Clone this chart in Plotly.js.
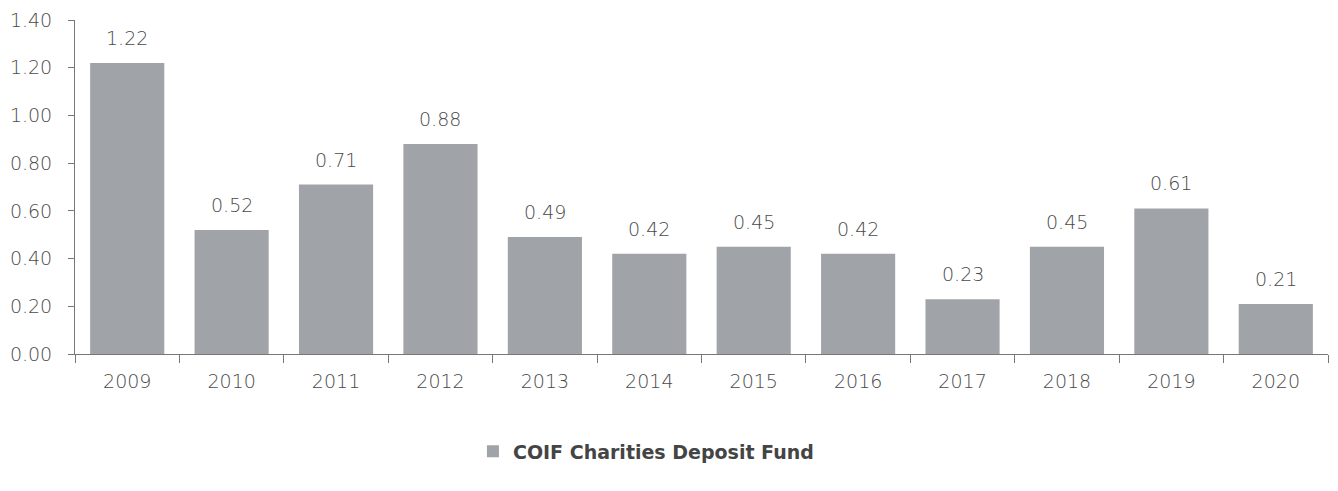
<!DOCTYPE html>
<html>
<head>
<meta charset="utf-8">
<script src="https://cdn.plot.ly/plotly-3.0.1.min.js"></script>
<style>html,body{margin:0;padding:0;background:#fff;}#chart{width:1338px;height:491px;}</style>
</head>
<body>
<div id="chart"></div>
<script>
const years = ["2009","2010","2011","2012","2013","2014","2015","2016","2017","2018","2019","2020"];
const values = [1.22,0.52,0.71,0.88,0.49,0.42,0.45,0.42,0.23,0.45,0.61,0.21];
const seriesName = "COIF Charities Deposit Fund";
const yTicks = [0,0.2,0.4,0.6,0.8,1.0,1.2,1.4];

const fontFam = "DejaVu Sans, sans-serif";
const txtColor = "#4a4a4a";
const lightFont = {family: fontFam, size: 19, color: txtColor, weight: 200};
// category index positions for annotations on the category axis
const annotations = years.map((yr, i) => ({
  x: i, y: values[i], xref: "x", yref: "y",
  text: values[i].toFixed(2), showarrow: false,
  yanchor: "bottom", yshift: 12,
  font: lightFont
}));

Plotly.newPlot("chart", [{
  type: "bar",
  x: years,
  y: values,
  name: seriesName,
  marker: {color: "#A0A3A7"},
  showlegend: true,
  hoverinfo: "none"
}], {
  width: 1338, height: 491,
  margin: {l: 75, r: 10, t: 20, b: 137},
  paper_bgcolor: "#fff", plot_bgcolor: "#fff",
  bargap: 0.29,
  font: lightFont,
  annotations: annotations,
  xaxis: {
    type: "category",
    range: [-0.5, years.length - 0.5],
    showline: true, linecolor: "#777", linewidth: 1,
    ticks: "outside", tickson: "boundaries", ticklen: 8, tickcolor: "#777",
    ticklabelstandoff: 10,
    showgrid: false,
    tickfont: lightFont
  },
  yaxis: {
    range: [0, 1.4],
    tickvals: yTicks,
    ticktext: yTicks.map(v => v.toFixed(2)),
    showline: true, linecolor: "#777", linewidth: 1,
    ticks: "outside", ticklen: 6, tickcolor: "#777",
    ticklabelstandoff: 12,
    showgrid: false, zeroline: false,
    tickfont: lightFont
  },
  showlegend: true,
  legend: {
    orientation: "h", x: 0.3176, xanchor: "left", y: -0.235, yanchor: "top",
    itemwidth: 30,
    font: {family: fontFam, size: 19, color: "#444", weight: 700}
  }
}, {displayModeBar: false});
</script>
</body>
</html>
